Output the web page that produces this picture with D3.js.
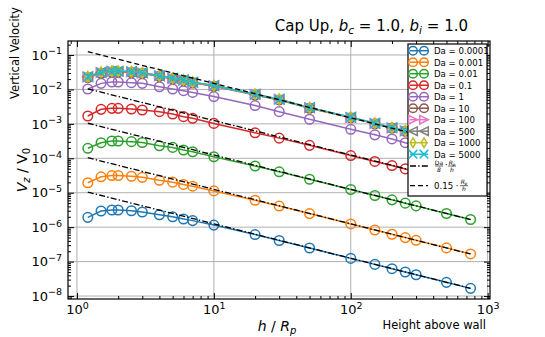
<!DOCTYPE html>
<html>
<head>
<meta charset="utf-8">
<script src="https://cdn.jsdelivr.net/npm/d3@7"></script>
<style>
  body { margin: 0; background: #fff; }
  svg { font-family: "DejaVu Sans", sans-serif; }
</style>
</head>
<body>
<svg id="chart" width="545" height="337"></svg>
<script>
const heights = [1.2, 1.5, 1.8, 2, 2.5, 3, 4, 5, 6, 7, 10, 20, 30, 50, 100, 150, 200, 250, 300, 500, 750];

const vDa00001 = [1.93e-6, 2.94e-6, 3.15e-6, 3.15e-6, 3.0e-6, 2.75e-6, 2.3e-6, 2.0e-6, 1.73e-6, 1.55e-6, 1.15e-6, 6.1e-7, 4.1e-7, 2.48e-7, 1.24e-7, 8.3e-8, 6.22e-8, 4.98e-8, 4.15e-8, 2.5e-8, 1.67e-8];
const vDa0001 = [1.95e-5, 2.9e-5, 3.15e-5, 3.15e-5, 3.02e-5, 2.8e-5, 2.3e-5, 2.03e-5, 1.74e-5, 1.55e-5, 1.13e-5, 6.05e-6, 4.1e-6, 2.48e-6, 1.24e-6, 8.3e-7, 6.22e-7, 4.98e-7, 4.15e-7, 2.5e-7, 1.67e-7];
const vDa001 = [1.95e-4, 2.84e-4, 3.18e-4, 3.18e-4, 3.04e-4, 2.88e-4, 2.32e-4, 2.07e-4, 1.74e-4, 1.55e-4, 1.11e-4, 5.97e-5, 4.05e-5, 2.47e-5, 1.24e-5, 8.3e-6, 6.22e-6, 4.98e-6, 4.15e-6, 2.5e-6, 1.67e-6];
const vDa01 = [1.69e-3, 2.64e-3, 2.82e-3, 2.82e-3, 2.7e-3, 2.53e-3, 2.26e-3, 1.93e-3, 1.62e-3, 1.45e-3, 1.03e-3, 5.5e-4, 3.85e-4, 2.38e-4, 1.2e-4, 8.1e-5, 6.15e-5, 4.92e-5, 4.1e-5, 2.48e-5, 1.66e-5];
const vDa1 = [1.03e-2, 1.5e-2, 1.64e-2, 1.64e-2, 1.57e-2, 1.5e-2, 1.2e-2, 1.03e-2, 9.2e-3, 8.2e-3, 6.2e-3, 3.4e-3, 2.26e-3, 1.36e-3, 6.95e-4, 4.8e-4, 3.65e-4, 2.84e-4, 2.38e-4, 1.43e-4, 9.5e-5];
const vDa10 = [2.2e-2, 2.95e-2, 3.2e-2, 3.22e-2, 3.1e-2, 2.9e-2, 2.4e-2, 2.02e-2, 1.8e-2, 1.56e-2, 1.24e-2, 6.9e-3, 4.95e-3, 2.85e-3, 1.5e-3, 1.0e-3, 7.5e-4, 6.1e-4, 4.95e-4, 2.92e-4, 1.95e-4];
const vDa100 = [2.3e-2, 3.1e-2, 3.35e-2, 3.36e-2, 3.24e-2, 3.02e-2, 2.48e-2, 2.08e-2, 1.86e-2, 1.6e-2, 1.28e-2, 7.1e-3, 5.15e-3, 2.92e-3, 1.54e-3, 1.03e-3, 7.65e-4, 6.25e-4, 5.05e-4, 2.98e-4, 1.99e-4];
const vDa500 = [2.33e-2, 3.13e-2, 3.39e-2, 3.39e-2, 3.27e-2, 3.04e-2, 2.5e-2, 2.1e-2, 1.88e-2, 1.62e-2, 1.29e-2, 7.2e-3, 5.2e-3, 2.95e-3, 1.55e-3, 1.04e-3, 7.7e-4, 6.3e-4, 5.1e-4, 3.0e-4, 2.0e-4];
const vDa1000 = [2.34e-2, 3.14e-2, 3.4e-2, 3.4e-2, 3.28e-2, 3.05e-2, 2.51e-2, 2.11e-2, 1.89e-2, 1.62e-2, 1.29e-2, 7.2e-3, 5.2e-3, 2.95e-3, 1.55e-3, 1.04e-3, 7.7e-4, 6.3e-4, 5.1e-4, 3.0e-4, 2.0e-4];
const vDa5000 = [2.35e-2, 3.15e-2, 3.4e-2, 3.41e-2, 3.28e-2, 3.06e-2, 2.51e-2, 2.11e-2, 1.89e-2, 1.63e-2, 1.3e-2, 7.2e-3, 5.2e-3, 2.96e-3, 1.56e-3, 1.04e-3, 7.7e-4, 6.3e-4, 5.1e-4, 3.0e-4, 2.0e-4];

const seriesLabels = ["Da = 0.0001", "Da = 0.001", "Da = 0.01", "Da = 0.1", "Da = 1", "Da = 10", "Da = 100", "Da = 500", "Da = 1000", "Da = 5000"];
const seriesValues = [vDa00001, vDa0001, vDa001, vDa01, vDa1, vDa10, vDa100, vDa500, vDa1000, vDa5000];
const seriesMarkers = ["o", "o", "o", "o", "o", "o", ">", "<", "d", "x"];
const colors = ["#1f77b4", "#ff7f0e", "#2ca02c", "#d62728", "#9467bd", "#8c564b", "#e377c2", "#7f7f7f", "#bcbd22", "#17becf"];

// reference lines Da/8 * Rp/h and 0.15 * Rp/h
const refDa = [0.0001, 0.001, 0.01, 0.1];
const refRange = [1.2, 750];
const capCoef = 0.15;

const xMajor = [1, 10, 100, 1000];
const yMajor = [1e-8, 1e-7, 1e-6, 1e-5, 1e-4, 1e-3, 1e-2, 1e-1];

const svg = d3.select("#chart");
const margins = { top: 41, right: 55, bottom: 38, left: 68 };
const width = 545, height = 337;

const x = d3.scaleLog().domain([0.86, 1040]).range([margins.left, width - margins.right]);
const y = d3.scaleLog().domain([8.2e-9, 0.255]).range([height - margins.bottom, margins.top]);

const [x0, x1] = x.range();
const [y0, y1] = y.range();

const xMinor = [];
for (let e = -1; e <= 3; e++) for (let m = 2; m <= 9; m++) {
  const v = m * Math.pow(10, e);
  if (v > x.domain()[0] && v < x.domain()[1]) xMinor.push(v);
}
const yMinor = [];
for (let e = -9; e <= 0; e++) for (let m = 2; m <= 9; m++) {
  const v = m * Math.pow(10, e);
  if (v > y.domain()[0] && v < y.domain()[1]) yMinor.push(v);
}

svg.append("defs").append("clipPath").attr("id", "clip")
  .append("rect").attr("x", x0).attr("y", y1).attr("width", x1 - x0).attr("height", y0 - y1);

// grid
svg.append("g").selectAll("line").data(xMajor).join("line")
  .attr("x1", (d) => x(d)).attr("x2", (d) => x(d)).attr("y1", y1).attr("y2", y0)
  .attr("stroke", "#b0b0b0").attr("stroke-width", 1);
svg.append("g").selectAll("line").data(yMajor).join("line")
  .attr("x1", x0).attr("x2", x1).attr("y1", (d) => y(d)).attr("y2", (d) => y(d))
  .attr("stroke", "#b0b0b0").attr("stroke-width", 1);

function markerPath(shape, r) {
  if (shape === "o") return d3.arc()({ innerRadius: 0, outerRadius: r, startAngle: 0, endAngle: 2 * Math.PI });
  if (shape === ">") return `M${r},0L${-r},${-r}L${-r},${r}Z`;
  if (shape === "<") return `M${-r},0L${r},${-r}L${r},${r}Z`;
  if (shape === "d") return `M0,${-r * 1.1}L${r * 0.65},0L0,${r * 1.1}L${-r * 0.65},0Z`;
  return `M${-r},${-r}L${r},${r}M${-r},${r}L${r},${-r}`;
}

const plot = svg.append("g").attr("clip-path", "url(#clip)");
const line = d3.line().x((d) => x(d[0])).y((d) => y(d[1]));

seriesValues.forEach((vals, i) => {
  const pts = heights.map((h, j) => [h, vals[j]]);
  const g = plot.append("g");
  g.append("path").attr("d", line(pts)).attr("fill", "none")
    .attr("stroke", colors[i]).attr("stroke-width", 1.5);
  g.selectAll("path.m").data(pts).join("path").attr("class", "m")
    .attr("transform", (d) => `translate(${x(d[0])},${y(d[1])})`)
    .attr("d", markerPath(seriesMarkers[i], 4.8))
    .attr("fill", "none").attr("stroke", colors[i]).attr("stroke-width", 1.5);
});

refDa.forEach((da) => {
  plot.append("path").attr("d", line(refRange.map((h) => [h, da / 8 / h])))
    .attr("fill", "none").attr("stroke", "#000").attr("stroke-width", 1.3)
    .attr("stroke-dasharray", "6,2.2,1.4,2.2");
});
plot.append("path").attr("d", line(refRange.map((h) => [h, capCoef / h])))
  .attr("fill", "none").attr("stroke", "#000").attr("stroke-width", 1.3)
  .attr("stroke-dasharray", "5,3");

// axes
function supLabels(sel) {
  sel.selectAll(".tick text").each(function (d) {
    const t = d3.select(this);
    const e = Math.round(Math.log10(d));
    t.text(null);
    t.append("tspan").text("10");
    t.append("tspan").attr("dy", "-0.55em").attr("font-size", "9.5px")
      .text(e < 0 ? "\u2212" + (-e) : e);
  });
}
function styleAxis(g) {
  g.select(".domain").remove();
  g.selectAll(".tick line").attr("stroke", "#000").attr("stroke-width", 1);
  g.selectAll(".tick text").attr("fill", "#000").attr("font-size", "13px")
    .attr("font-family", "DejaVu Sans");
}

const gxb = svg.append("g").attr("transform", `translate(0,${y0})`)
  .call(d3.axisBottom(x).tickValues(xMajor).tickSizeInner(-6).tickSizeOuter(0).tickPadding(6));
styleAxis(gxb); supLabels(gxb);
svg.append("g").attr("transform", `translate(0,${y0})`)
  .call(d3.axisBottom(x).tickValues(xMinor).tickSizeInner(-3).tickSizeOuter(0).tickFormat(""))
  .call(styleAxis);
svg.append("g").attr("transform", `translate(0,${y1})`)
  .call(d3.axisTop(x).tickValues(xMajor).tickSizeInner(-6).tickSizeOuter(0).tickFormat(""))
  .call(styleAxis);
svg.append("g").attr("transform", `translate(0,${y1})`)
  .call(d3.axisTop(x).tickValues(xMinor).tickSizeInner(-3).tickSizeOuter(0).tickFormat(""))
  .call(styleAxis);

const gyl = svg.append("g").attr("transform", `translate(${x0},0)`)
  .call(d3.axisLeft(y).tickValues(yMajor).tickSizeInner(-6).tickSizeOuter(0).tickPadding(6));
styleAxis(gyl); supLabels(gyl);
svg.append("g").attr("transform", `translate(${x0},0)`)
  .call(d3.axisLeft(y).tickValues(yMinor).tickSizeInner(-3).tickSizeOuter(0).tickFormat(""))
  .call(styleAxis);
svg.append("g").attr("transform", `translate(${x1},0)`)
  .call(d3.axisRight(y).tickValues(yMajor).tickSizeInner(-6).tickSizeOuter(0).tickFormat(""))
  .call(styleAxis);
svg.append("g").attr("transform", `translate(${x1},0)`)
  .call(d3.axisRight(y).tickValues(yMinor).tickSizeInner(-3).tickSizeOuter(0).tickFormat(""))
  .call(styleAxis);

svg.append("rect").attr("x", x0).attr("y", y1).attr("width", x1 - x0).attr("height", y0 - y1)
  .attr("fill", "none").attr("stroke", "#000").attr("stroke-width", 1.2);

// legend
const lg = svg.append("g").attr("transform", "translate(408,44)");
lg.append("rect").attr("width", 79).attr("height", 152)
  .attr("fill", "#fff").attr("stroke", "#000").attr("stroke-width", 1.2);
seriesLabels.forEach((lab, i) => {
  const ly = 6.7 + i * 11.5;
  const row = lg.append("g").attr("transform", `translate(0,${ly})`);
  row.append("line").attr("x1", 2).attr("x2", 20).attr("stroke", colors[i]).attr("stroke-width", 1.5);
  [5, 16].forEach((mx) => {
    row.append("path").attr("transform", `translate(${mx},0)`)
      .attr("d", markerPath(seriesMarkers[i], 4.3))
      .attr("fill", "none").attr("stroke", colors[i]).attr("stroke-width", 1.5);
  });
  row.append("text").attr("x", 26).attr("y", 3.3).attr("font-size", "8.6px").text(lab);
});

function fraction(g, xc, yc, num, den) {
  const n = g.append("text").attr("x", xc).attr("y", yc - 1.5).attr("text-anchor", "middle")
    .attr("font-size", "6px");
  num.forEach((p) => n.append("tspan").attr("font-style", p[1] ? "italic" : null)
    .attr("font-size", p[2] || null).attr("dy", p[3] || null).text(p[0]));
  g.append("line").attr("x1", xc - 4).attr("x2", xc + 4).attr("y1", yc).attr("y2", yc)
    .attr("stroke", "#000").attr("stroke-width", 0.6);
  g.append("text").attr("x", xc).attr("y", yc + 5.5).attr("text-anchor", "middle")
    .attr("font-size", "6px").attr("font-style", "italic").text(den);
}

const r1 = lg.append("g").attr("transform", "translate(0,122)");
r1.append("line").attr("x1", 2).attr("x2", 20).attr("stroke", "#000").attr("stroke-width", 1.3)
  .attr("stroke-dasharray", "6,2.2,1.4,2.2");
fraction(r1, 31, 0, [["Da"]], "8");
r1.append("text").attr("x", 37).attr("y", 2).attr("font-size", "8px").text("\u00b7");
fraction(r1, 44, 0, [["R", true], ["p", true, "4px", "1"]], "h");

const r2 = lg.append("g").attr("transform", "translate(0,141.7)");
r2.append("line").attr("x1", 2).attr("x2", 20).attr("stroke", "#000").attr("stroke-width", 1.3)
  .attr("stroke-dasharray", "5,3");
r2.append("text").attr("x", 26).attr("y", 3.3).attr("font-size", "8.6px").text("0.15 \u00b7");
fraction(r2, 56, 0, [["R", true], ["p", true, "4px", "1"]], "h");

// titles
const title = svg.append("text").attr("x", 468).attr("y", 31).attr("text-anchor", "end")
  .attr("font-size", "15px");
title.append("tspan").text("Cap Up, ");
title.append("tspan").attr("font-style", "italic").text("b");
title.append("tspan").attr("font-style", "italic").attr("font-size", "10.5px").attr("dy", 3).text("c");
title.append("tspan").attr("dy", -3).text(" = 1.0, ");
title.append("tspan").attr("font-style", "italic").text("b");
title.append("tspan").attr("font-style", "italic").attr("font-size", "10.5px").attr("dy", 3).text("i");
title.append("tspan").attr("dy", -3).text(" = 1.0");

svg.append("text").attr("transform", "translate(19,53) rotate(-90)").attr("text-anchor", "middle")
  .attr("font-size", "11.5px").text("Vertical Velocity");

const yl = svg.append("text").attr("transform", "translate(27,170) rotate(-90)")
  .attr("text-anchor", "middle").attr("font-size", "14px");
yl.append("tspan").attr("font-style", "italic").text("V");
yl.append("tspan").attr("font-size", "10px").attr("dy", 3).attr("font-style", "italic").text("z");
yl.append("tspan").attr("dy", -3).text(" / V");
yl.append("tspan").attr("font-size", "10px").attr("dy", 3).text("0");

const xl = svg.append("text").attr("x", 277).attr("y", 331).attr("text-anchor", "middle")
  .attr("font-size", "14px");
xl.append("tspan").attr("font-style", "italic").text("h");
xl.append("tspan").text(" / ");
xl.append("tspan").attr("font-style", "italic").text("R");
xl.append("tspan").attr("font-size", "10px").attr("dy", 3).attr("font-style", "italic").text("p");

svg.append("text").attr("x", 486).attr("y", 329).attr("text-anchor", "end")
  .attr("font-size", "11.5px").text("Height above wall");
</script>
</body>
</html>
